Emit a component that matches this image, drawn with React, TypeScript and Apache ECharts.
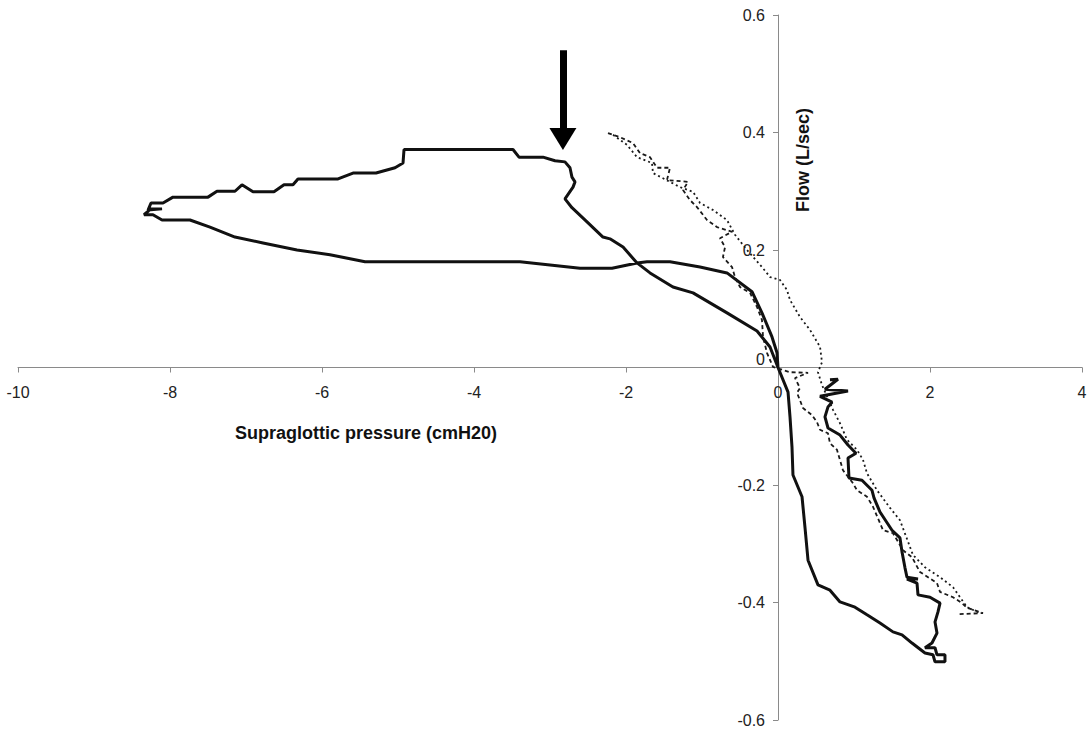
import React, { useEffect, useRef } from "react";
import * as echarts from "echarts";

// Supraglottic pressure (cmH2O) vs flow (L/sec) — solid trace
const solidTrace: [number, number][] = [
  [0.684, -0.021], [0.789, -0.020], [0.618, -0.037], [0.921, -0.040], [0.553, -0.049],
  [0.711, -0.059], [0.658, -0.067], [0.618, -0.084], [0.658, -0.103], [0.816, -0.115],
  [0.921, -0.132], [1.026, -0.146], [0.921, -0.154], [0.934, -0.188], [1.105, -0.192],
  [1.237, -0.209], [1.263, -0.222], [1.342, -0.246], [1.500, -0.277], [1.605, -0.290],
  [1.632, -0.314], [1.671, -0.341], [1.697, -0.357], [1.842, -0.360], [1.697, -0.360],
  [1.829, -0.367], [1.842, -0.387], [2.000, -0.391], [2.132, -0.401], [2.105, -0.416],
  [2.066, -0.433], [2.092, -0.452], [2.026, -0.469], [1.934, -0.477], [2.066, -0.477],
  [2.092, -0.489], [2.197, -0.489], [2.197, -0.501], [2.066, -0.501], [2.039, -0.489],
  [1.934, -0.486], [1.763, -0.469], [1.632, -0.455], [1.513, -0.450], [1.342, -0.435],
  [1.171, -0.421], [1.013, -0.408], [0.816, -0.399], [0.684, -0.379], [0.526, -0.370],
  [0.395, -0.328], [0.355, -0.272], [0.316, -0.220], [0.197, -0.183], [0.184, -0.135],
  [0.158, -0.084], [0.132, -0.042], [0, 0], [-0.013, 0.025], [-0.079, 0.052],
  [-0.211, 0.093], [-0.342, 0.129], [-0.671, 0.161], [-1.026, 0.171], [-1.421, 0.180],
  [-1.724, 0.180], [-1.855, 0.178], [-2.184, 0.169], [-2.605, 0.169], [-3.395, 0.180],
  [-4.184, 0.180], [-5.434, 0.180], [-5.895, 0.192], [-6.329, 0.200], [-6.776, 0.212],
  [-7.145, 0.222], [-7.474, 0.239], [-7.737, 0.251], [-8.105, 0.251], [-8.224, 0.260],
  [-8.342, 0.260], [-8.250, 0.270], [-8.105, 0.270], [-8.289, 0.268], [-8.250, 0.280],
  [-8.092, 0.280], [-7.961, 0.290], [-7.500, 0.290], [-7.382, 0.300], [-7.145, 0.300],
  [-7.053, 0.311], [-6.908, 0.299], [-6.632, 0.299], [-6.500, 0.311], [-6.382, 0.311],
  [-6.316, 0.321], [-5.789, 0.321], [-5.592, 0.331], [-5.289, 0.331], [-5.039, 0.340],
  [-4.934, 0.348], [-4.921, 0.371], [-3.487, 0.371], [-3.408, 0.358], [-3.092, 0.358],
  [-2.934, 0.352], [-2.803, 0.350], [-2.737, 0.340], [-2.711, 0.324], [-2.671, 0.316],
  [-2.697, 0.307], [-2.803, 0.287], [-2.711, 0.272], [-2.513, 0.248], [-2.303, 0.222],
  [-2.211, 0.219], [-2.039, 0.205], [-1.855, 0.178], [-1.684, 0.161], [-1.382, 0.137],
  [-1.118, 0.127], [-0.671, 0.093], [-0.276, 0.062], [-0.105, 0.035], [0, 0],
];

// dashed trace
const dashedTrace: [number, number][] = [
  [-2.237, 0.399], [-2.079, 0.392], [-1.908, 0.382], [-1.816, 0.365], [-1.684, 0.358],
  [-1.592, 0.340], [-1.421, 0.340], [-1.461, 0.319], [-1.184, 0.316], [-1.250, 0.302],
  [-1.158, 0.285], [-1.066, 0.273], [-0.934, 0.251], [-0.803, 0.239], [-0.605, 0.231],
  [-0.763, 0.220], [-0.697, 0.205], [-0.724, 0.188], [-0.605, 0.171], [-0.566, 0.154],
  [-0.500, 0.137], [-0.368, 0.127], [-0.276, 0.103], [-0.211, 0.081], [-0.197, 0.052],
  [-0.145, 0.025], [-0.066, 0.001], [0.158, -0.008], [0.395, -0.009], [0.224, -0.018],
  [0.289, -0.035], [0.250, -0.043], [0.329, -0.069], [0.447, -0.081], [0.513, -0.093],
  [0.553, -0.106], [0.658, -0.112], [0.684, -0.129], [0.776, -0.140], [0.855, -0.175],
  [0.987, -0.197], [1.039, -0.209], [1.171, -0.220], [1.250, -0.237], [1.382, -0.277],
  [1.513, -0.282], [1.645, -0.311], [1.763, -0.323], [1.868, -0.348], [1.974, -0.357],
  [2.092, -0.367], [2.132, -0.382], [2.303, -0.391], [2.421, -0.401], [2.487, -0.409],
  [2.697, -0.418], [2.355, -0.420],
];

// dotted trace
const dottedTrace: [number, number][] = [
  [-2.171, 0.396], [-1.987, 0.379], [-1.855, 0.358], [-1.658, 0.348], [-1.645, 0.331],
  [-1.289, 0.307], [-1.118, 0.299], [-1.026, 0.280], [-0.855, 0.268], [-0.671, 0.251],
  [-0.566, 0.226], [-0.408, 0.200], [-0.211, 0.171], [-0.105, 0.154], [0.026, 0.149],
  [0.118, 0.132], [0.158, 0.115], [0.289, 0.086], [0.421, 0.064], [0.553, 0.035],
  [0.579, 0.009], [0.526, -0.008], [0.579, -0.030], [0.724, -0.072], [0.816, -0.095],
  [0.908, -0.123], [1.039, -0.140], [1.118, -0.157], [1.171, -0.180], [1.303, -0.209],
  [1.474, -0.239], [1.605, -0.260], [1.776, -0.319], [1.934, -0.340], [2.132, -0.357],
  [2.303, -0.374], [2.487, -0.408], [2.658, -0.418],
];

// axis ranges
const xMin = -10;
const xMax = 4;
const yMin = -0.6;
const yMax = 0.6;

// arrow marking the point of interest
const arrowPressure = -2.83;
const arrowFlowTop = 0.54;
const arrowFlowEnd = 0.389;

const GRID = { left: 18, right: 7, top: 15, bottom: 9 };
const W = 1089;
const H = 729;

export default function App() {
  const ref = useRef<HTMLDivElement>(null);
  useEffect(() => {
    if (!ref.current) return;
    const chart = echarts.init(ref.current, undefined, { renderer: "svg" });
    const font = "'Liberation Sans', Arial, sans-serif";
    const gw = W - GRID.left - GRID.right;
    const gh = H - GRID.top - GRID.bottom;
    // place the axes through the origin
    const yAxisOffset = -gw * ((0 - xMin) / (xMax - xMin));
    const xAxisOffset = -gh * ((0 - yMin) / (yMax - yMin));
    chart.setOption({
      animation: false,
      backgroundColor: "#fff",
      grid: { ...GRID, containLabel: false, outerBoundsMode: "none" },
      xAxis: {
        type: "value",
        min: xMin,
        max: xMax,
        interval: 2,
        position: "bottom",
        offset: xAxisOffset,
        axisLine: { onZero: false, lineStyle: { color: "#8a8a8a", width: 1 } },
        axisTick: { show: true, length: 5, inside: false, lineStyle: { color: "#8a8a8a" } },
        axisLabel: { color: "#222", fontSize: 16, fontFamily: font, margin: 17, formatter: (v: number) => String(v) },
        splitLine: { show: false },
      },
      yAxis: {
        type: "value",
        min: yMin,
        max: yMax,
        interval: 0.2,
        position: "left",
        offset: yAxisOffset,
        axisLine: { onZero: false, lineStyle: { color: "#8a8a8a", width: 1 } },
        axisTick: { show: true, length: 5, inside: false, lineStyle: { color: "#8a8a8a" } },
        axisLabel: {
          color: "#222",
          fontSize: 16,
          fontFamily: font,
          margin: 13,
          formatter: (v: number) => {
            const r = Math.round(v * 10) / 10;
            return r === 0 ? "{z|0}" : String(r);
          },
          rich: { z: { fontSize: 16, fontFamily: font, color: "#222", padding: [0, 0, 16, 0] } },
        },
        splitLine: { show: false },
      },
      graphic: [
        {
          type: "text",
          left: 235,
          top: 424,
          style: { text: "Supraglottic pressure (cmH20)", font: `bold 18px ${font}`, fill: "#111" },
        },
        {
          type: "text",
          x: 794,
          y: 212,
          rotation: Math.PI / 2,
          style: { text: "Flow (L/sec)", font: `bold 18px ${font}`, fill: "#111", textBaseline: "top" },
        },
      ],
      series: [
        {
          type: "line",
          data: solidTrace,
          showSymbol: false,
          symbol: "none",
          lineStyle: { color: "#111", width: 3 },
          silent: true,
          markLine: {
            silent: true,
            symbol: ["none", "triangle"],
            symbolSize: [27, 22],
            label: { show: false },
            lineStyle: { color: "#000", width: 7, type: "solid" },
            data: [[{ coord: [arrowPressure, arrowFlowTop] }, { coord: [arrowPressure, arrowFlowEnd] }]],
          },
        },
        {
          type: "line",
          data: dashedTrace,
          showSymbol: false,
          symbol: "none",
          lineStyle: { color: "#1a1a1a", width: 1.8, type: [4, 3] },
          silent: true,
        },
        {
          type: "line",
          data: dottedTrace,
          showSymbol: false,
          symbol: "none",
          lineStyle: { color: "#1a1a1a", width: 1.8, type: [2, 3] },
          silent: true,
        },
      ],
    });
    return () => chart.dispose();
  }, []);
  return <div ref={ref} style={{ width: W, height: H, position: "absolute", left: 0, top: 0 }} />;
}
